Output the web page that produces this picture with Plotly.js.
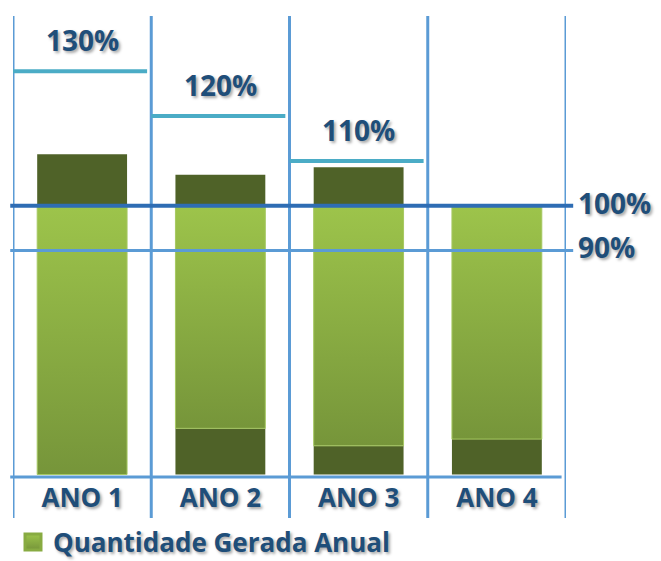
<!DOCTYPE html>
<html><head><meta charset="utf-8">
<script src="https://cdn.plot.ly/plotly-3.0.1.min.js"></script>
<style>html,body{margin:0;padding:0;background:#fff}#chart{width:661px;height:561px}</style>
</head><body><div id="chart"></div>
<script>
// ---- data (percent of the annual reference quantity) ----
const categories   = ['ANO 1', 'ANO 2', 'ANO 3', 'ANO 4'];
const floorLevel   = 40;                        // bottom of the bars
const deficitTop   = [40, 50.3, 46.4, 47.9];    // top of dark bottom block
const fullLevel    = 100;                       // 100% reference
const generatedTop = [111.5, 106.9, 108.6, 100];// top of dark excess block
const stepLevels   = [130, 120, 110];
const stepLabels   = ['130%', '120%', '110%'];
const refLevels    = [100, 90];
const refLabels    = ['100%', '90%'];
const legendName   = 'Quantidade Gerada Anual';

// ---- styles ----
const FONT = '"Open Sans", Lato, sans-serif';
const TXT = '#1f4e79';
const SHADOW = '2px 2px 3px rgba(0,0,0,0.35)';
const DARK = '#4f6228';
const LIGHT_TOP = '#9dc44b', LIGHT_BOT = '#76953a';
const BLUE = '#5b9bd5', BLUE_DARK = '#2e6db4', TEAL = '#4bacc6';
const W = 0.65;

const xs = categories.map((c, i) => i);
const traces = [];

// light (gradient) part of each bar: from deficit top up to 100%
xs.forEach(i => {
  traces.push({
    type: 'scatter', mode: 'lines', fill: 'toself',
    x: [i - W/2, i + W/2, i + W/2, i - W/2, i - W/2],
    y: [deficitTop[i], deficitTop[i], fullLevel, fullLevel, deficitTop[i]],
    line: {color: '#a6c862', width: 1},
    fillgradient: {type: 'vertical', colorscale: [[0, LIGHT_BOT], [1, LIGHT_TOP]]},
    showlegend: false, hoverinfo: 'skip'
  });
});
// dark bottom block
traces.push({
  type: 'bar', x: xs, y: deficitTop.map(v => v - floorLevel), base: floorLevel,
  width: W, marker: {color: DARK, line: {width: 0}}, showlegend: false, hoverinfo: 'skip'
});
// dark excess block
traces.push({
  type: 'bar', x: xs, y: generatedTop.map(v => v - fullLevel), base: fullLevel,
  width: W, marker: {color: DARK, line: {width: 0}}, showlegend: false, hoverinfo: 'skip'
});
// legend entry
traces.push({
  type: 'scatter', mode: 'markers', x: [null], y: [null], name: legendName,
  marker: {symbol: 'square', size: 16, color: LIGHT_TOP,
           gradient: {type: 'vertical', color: LIGHT_BOT}, line: {width: 3, color: '#88ab42'}}
});

const shapes = [];
const nB = categories.length;
for (let b = 0; b <= nB; b++) {
  shapes.push({type: 'line', xref: 'x', yref: 'paper', x0: b - 0.5, x1: b - 0.5,
               y0: -0.089, y1: 1, line: {color: BLUE, width: 3}, layer: 'above'});
}
stepLevels.forEach((v, i) => {
  shapes.push({type: 'line', xref: 'x', yref: 'y', x0: i - 0.5, x1: i + 0.47,
               y0: v, y1: v, line: {color: TEAL, width: 4}, layer: 'above'});
});
refLevels.forEach((v, k) => {
  shapes.push({type: 'line', xref: 'paper', yref: 'y', x0: -0.005, x1: 1.013,
               y0: v, y1: v, line: {color: k === 0 ? BLUE_DARK : BLUE, width: k === 0 ? 4 : 3},
               layer: 'above'});
});
shapes.push({type: 'line', xref: 'paper', yref: 'paper', x0: -0.005, x1: 0.992,
             y0: 0, y1: 0, line: {color: BLUE, width: 3}, layer: 'above'});

const lblFont = {family: FONT, size: 28, color: TXT, weight: 'bold', shadow: SHADOW};
const annotations = [];
stepLevels.forEach((v, i) => {
  annotations.push({x: i, y: v, xref: 'x', yref: 'y', text: stepLabels[i], showarrow: false,
                    yanchor: 'middle', yshift: 31, font: lblFont});
});
refLevels.forEach((v, k) => {
  annotations.push({x: 1.018, y: v, xref: 'paper', yref: 'y', text: refLabels[k], showarrow: false,
                    xanchor: 'left', yanchor: 'middle', yshift: 3, font: lblFont});
});

const layout = {
  width: 661, height: 561,
  margin: {l: 13, r: 95, t: 16, b: 84, pad: 0, autoexpand: false},
  paper_bgcolor: '#fff', plot_bgcolor: '#fff',
  barmode: 'overlay',
  showlegend: true,
  legend: {x: 0, xanchor: 'left', y: -0.09, yanchor: 'top', orientation: 'h',
           font: {family: FONT, size: 26, color: TXT, weight: 'bold', shadow: SHADOW},
           bgcolor: 'rgba(0,0,0,0)'},
  xaxis: {range: [-0.5, 3.5], tickvals: xs, ticktext: categories, showgrid: false,
          zeroline: false, showline: false, ticks: '', automargin: false,
          ticklabelstandoff: 3,
          tickfont: {family: FONT, size: 26, color: TXT, weight: 'bold', shadow: SHADOW},
          fixedrange: true},
  yaxis: {range: [39.44, 142.34], showgrid: false, zeroline: false, showline: false,
          showticklabels: false, ticks: '', fixedrange: true, automargin: false},
  shapes: shapes, annotations: annotations
};

Plotly.newPlot('chart', traces, layout, {displayModeBar: false, staticPlot: true});
</script>
</body></html>
